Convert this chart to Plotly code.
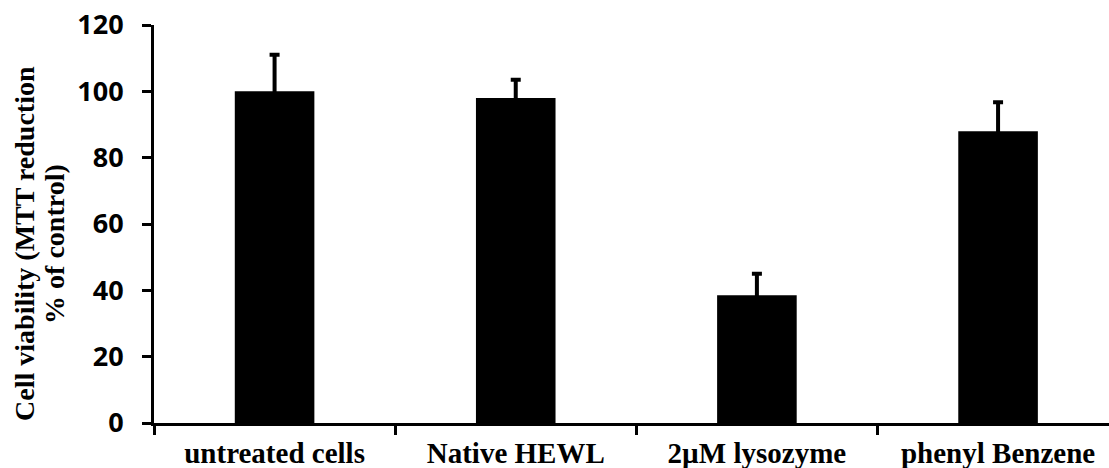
import plotly.graph_objects as go

# Cell viability (MTT reduction) per treatment
categories = ["untreated cells", "Native HEWL", "2µM lysozyme", "phenyl Benzene"]
viability = [100, 98, 38.5, 88]
viability_err = [11, 5.5, 6.5, 8.7]
y_ticks = [0, 20, 40, 60, 80, 100, 120]

fig = go.Figure()
fig.add_trace(go.Bar(
    x=categories,
    y=viability,
    width=0.33,
    marker=dict(color="black", line=dict(width=0)),
    error_y=dict(type="data", array=viability_err, symmetric=True,
                 color="black", thickness=4, width=5),
))

serif = "'Liberation Serif', 'Times New Roman', 'DejaVu Serif', serif"
title_font = dict(family=serif, size=28, color="black", weight="bold")
fig.update_layout(
    width=1109, height=468,
    margin=dict(l=154, r=0, t=25, b=45),
    paper_bgcolor="white", plot_bgcolor="white",
    showlegend=False,
    xaxis=dict(
        type="category",
        range=[-0.5, 3.46],
        showline=True, linecolor="black", linewidth=3,
        ticks="outside", tickson="boundaries", ticklen=9, tickwidth=3,
        tickcolor="black",
        tickfont=dict(family=serif, size=29, color="black", weight="bold"),
        ticklabelstandoff=2,
        showgrid=False, zeroline=False,
    ),
    yaxis=dict(
        range=[0, 120],
        tickvals=y_ticks,
        showline=True, linecolor="black", linewidth=3,
        ticks="outside", ticklen=9, tickwidth=3, tickcolor="black",
        tickfont=dict(family="Open Sans", size=27, color="black", weight="bold"),
        ticklabelstandoff=13,
        showgrid=False, zeroline=False,
    ),
    annotations=[
        dict(text="Cell viability (MTT reduction", xref="paper", yref="paper",
             x=(25 - 154) / 955, y=0.45, textangle=-90, showarrow=False,
             xanchor="center", yanchor="middle", font=title_font),
        dict(text="% of control)", xref="paper", yref="paper",
             x=(55 - 154) / 955, y=0.45, textangle=-90, showarrow=False,
             xanchor="center", yanchor="middle", font=title_font),
    ],
)

fig.write_html("out.html")
